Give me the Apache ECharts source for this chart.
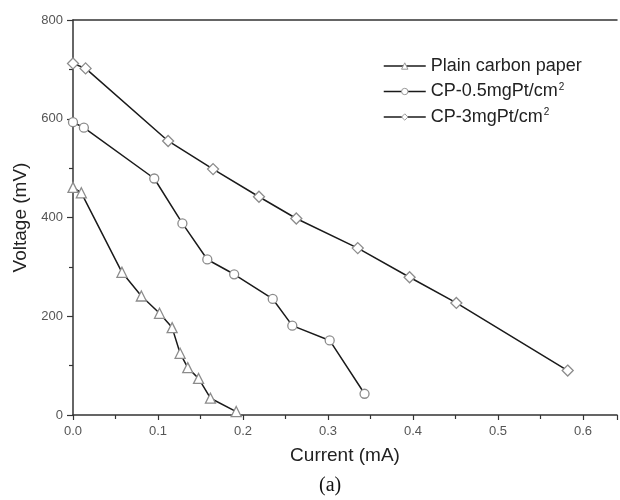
<!DOCTYPE html>
<html><head><meta charset="utf-8">
<script src="https://cdn.jsdelivr.net/npm/echarts@6/dist/echarts.min.js"></script>
<style>html,body{margin:0;padding:0;background:#fff}#c{width:620px;height:500px}</style>
</head><body><div id="c"></div>
<script>
var seriesNames = ['Plain carbon paper', 'CP-0.5mgPt/cm2', 'CP-3mgPt/cm2'];
var plainX = [0.0, 0.0098, 0.0576, 0.0804, 0.1018, 0.1166, 0.126, 0.135, 0.1477, 0.1617, 0.192];
var plainY = [461, 450, 289, 241, 206, 177, 125, 96, 74, 34, 7];
var circleX = [0.0, 0.0128, 0.0956, 0.1287, 0.158, 0.1896, 0.235, 0.258, 0.302, 0.343];
var circleY = [593, 582, 479, 388, 315, 285, 235, 181, 151, 43];
var diamondX = [0.0, 0.0148, 0.1119, 0.1648, 0.2188, 0.2627, 0.335, 0.396, 0.451, 0.582];
var diamondY = [712, 702, 555, 498, 442, 398, 338, 279, 227, 90];
var xTicks = [0.0, 0.1, 0.2, 0.3, 0.4, 0.5, 0.6];
var yTicks = [0, 200, 400, 600, 800];

function pairs(xs, ys){ return xs.map(function(x,i){return [x, ys[i]];}); }

var chart = echarts.init(document.getElementById('c'));
var axisColor = '#333';
var markerStyle = {color: '#fff', borderColor: '#8c8c8c', borderWidth: 1.3};
var baseSeries = function(name, sym, size, xs, ys){
  return {
    name: name, type: 'line', data: pairs(xs, ys),
    symbol: sym, symbolSize: size, showAllSymbol: true,
    lineStyle: {color: '#1a1a1a', width: 1.5},
    itemStyle: markerStyle,
    emphasis: {disabled: true}, animation: false, clip: false
  };
};
chart.setOption({
  animation: false,
  grid: {left: 73, width: 549, top: 20, bottom: 85, containLabel: false},
  legend: {
    orient: 'vertical', left: 383, top: 57, padding: 0,
    itemWidth: 42, itemHeight: 8, itemGap: 7,
    data: seriesNames,
    itemStyle: {color: '#fff', borderColor: '#999', borderWidth: 1},
    lineStyle: {color: '#1a1a1a', width: 1.5},
    formatter: function(n){
      if (n.slice(-3) === 'cm2') return '{n|' + n.slice(0, -1) + '}{s|2}';
      return '{n|' + n + '}';
    },
    textStyle: {
      color: '#222', fontSize: 18, fontFamily: 'Liberation Sans, Arial',
      rich: {
        n: {fontSize: 18, color: '#222', fontFamily: 'Liberation Sans, Arial'},
        s: {fontSize: 10, color: '#222', fontFamily: 'Liberation Sans, Arial', verticalAlign: 'top', padding: [0,0,9,1]}
      }
    }
  },
  xAxis: [{
    type: 'value', min: 0, max: 0.64, interval: 0.1,
    name: 'Current (mA)', nameLocation: 'middle', nameGap: 31,
    nameTextStyle: {color: '#222', fontSize: 19, fontFamily: 'Liberation Sans, Arial'},
    axisLine: {show: true, onZero: false, lineStyle: {color: axisColor, width: 1.5}},
    axisTick: {show: true, inside: false, length: 5, lineStyle: {color: axisColor, width: 1.2}},
    minorTick: {show: true, splitNumber: 2, length: 4, lineStyle: {color: axisColor, width: 1.2}},
    splitLine: {show: false},
    axisLabel: {color: '#555', fontSize: 13, fontFamily: 'Liberation Sans, Arial', margin: 10,
      formatter: function(v){
        for (var i = 0; i < xTicks.length; i++) if (Math.abs(v - xTicks[i]) < 1e-6) return xTicks[i].toFixed(1);
        return '';
      }}
  }, {
    type: 'value', position: 'top', min: 0, max: 0.64,
    axisLine: {show: true, onZero: false, lineStyle: {color: axisColor, width: 1.5}},
    axisTick: {show: false}, axisLabel: {show: false}, splitLine: {show: false}
  }],
  yAxis: {
    type: 'value', min: 0, max: 800, interval: 200,
    name: 'Voltage (mV)', nameLocation: 'middle', nameGap: 42,
    nameTextStyle: {color: '#222', fontSize: 19, fontFamily: 'Liberation Sans, Arial'},
    axisLine: {show: true, onZero: false, lineStyle: {color: axisColor, width: 1.5}},
    axisTick: {show: true, inside: false, length: 6, lineStyle: {color: axisColor, width: 1.2}},
    minorTick: {show: true, splitNumber: 2, length: 4, lineStyle: {color: axisColor, width: 1.2}},
    splitLine: {show: false},
    axisLabel: {color: '#555', fontSize: 13, fontFamily: 'Liberation Sans, Arial', margin: 10,
      formatter: function(v){ return yTicks.indexOf(v) >= 0 ? String(v) : ''; }}
  },
  series: [
    baseSeries(seriesNames[0], 'triangle', 10, plainX, plainY),
    baseSeries(seriesNames[1], 'circle', 9, circleX, circleY),
    baseSeries(seriesNames[2], 'diamond', 11, diamondX, diamondY)
  ],
  graphic: [{
    type: 'text', left: 319, top: 476,
    style: {text: '(a)', fill: '#111', font: '20px "Liberation Serif", "Times New Roman", serif'}
  }]
});
</script></body></html>
